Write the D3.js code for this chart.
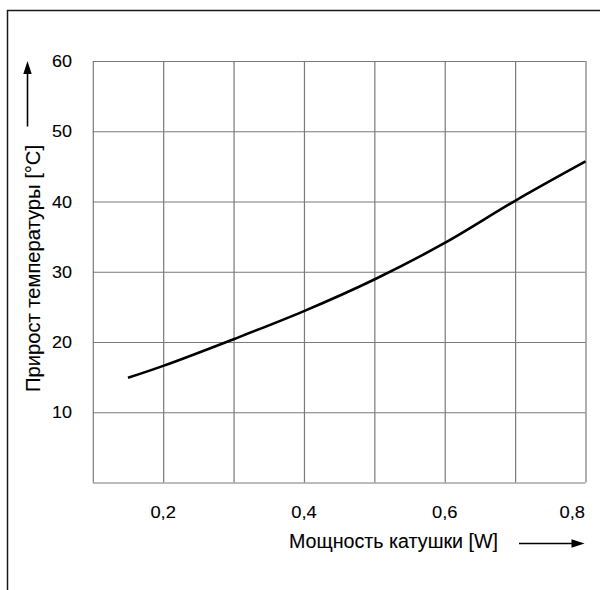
<!DOCTYPE html>
<html>
<head>
<meta charset="utf-8">
<script src="https://cdn.jsdelivr.net/npm/d3@7"></script>
<style>
  html, body { margin: 0; padding: 0; background: #fff; }
  svg { display: block; }
  text { font-family: "Liberation Sans", Arial, Helvetica, sans-serif; fill: #000; stroke: #000; stroke-width: 0.1px; }
</style>
</head>
<body>
<svg id="chart" width="600" height="590"></svg>
<script>
// Data
const powerW = [0.15, 0.2, 0.3, 0.4, 0.5, 0.6, 0.7, 0.8];
const tempRise = [14.9, 16.6, 20.4, 24.4, 28.9, 34.1, 40.1, 45.7];
const xGrid = [0.1, 0.2, 0.3, 0.4, 0.5, 0.6, 0.7, 0.8];
const yGrid = [0, 10, 20, 30, 40, 50, 60];
const xTickValues = [0.2, 0.4, 0.6, 0.8];
const xTickLabels = ["0,2", "0,4", "0,6", "0,8"];
const yTickValues = [10, 20, 30, 40, 50, 60];
const yTickLabels = ["10", "20", "30", "40", "50", "60"];
const xTitle = "Мощность катушки [W]";
const yTitle = "Прирост температуры [°C]";

const svg = d3.select("#chart");

const x = d3.scaleLinear().domain([0.1, 0.8]).range([92.8, 585.5]);
const y = d3.scaleLinear().domain([0, 60]).range([482.5, 61]);

// outer frame (top and left edges visible)
svg.append("path")
  .attr("d", "M7.5,590 L7.5,10.5 L600,10.5")
  .attr("fill", "none")
  .attr("stroke", "#1a1a1a")
  .attr("stroke-width", 1.5);

// grid via axes
const gridColor = "#7a7a7a";
const gx = svg.append("g")
  .attr("transform", `translate(0,${y(0)})`)
  .call(d3.axisBottom(x).tickValues(xGrid).tickSize(-(y(0) - y(60))).tickFormat(""));
gx.select(".domain").remove();
gx.selectAll(".tick line").attr("stroke", gridColor).attr("stroke-width", 1.2);

const gy = svg.append("g")
  .attr("transform", `translate(${x(0.1)},0)`)
  .call(d3.axisLeft(y).tickValues(yGrid).tickSize(-(x(0.8) - x(0.1))).tickFormat(""));
gy.select(".domain").remove();
gy.selectAll(".tick line").attr("stroke", gridColor).attr("stroke-width", 1.2);

// Y tick labels
svg.append("g").selectAll("text")
  .data(yTickValues)
  .join("text")
  .attr("x", 72)
  .attr("y", d => y(d) + 6)
  .attr("text-anchor", "end")
  .attr("font-size", 16)
  .attr("textLength", 20)
  .attr("lengthAdjust", "spacingAndGlyphs")
  .text((d, i) => yTickLabels[i]);

// X tick labels
svg.append("g").selectAll("text")
  .data(xTickValues)
  .join("text")
  .attr("x", (d, i) => i === xTickValues.length - 1 ? x(d) - 0.5 : x(d))
  .attr("y", 518)
  .attr("text-anchor", (d, i) => i === xTickValues.length - 1 ? "end" : "middle")
  .attr("font-size", 16)
  .attr("textLength", 25.5)
  .attr("lengthAdjust", "spacingAndGlyphs")
  .text((d, i) => xTickLabels[i]);

// curve
const line = d3.line()
  .x(d => x(d[0]))
  .y(d => y(d[1]))
  .curve(d3.curveCatmullRom.alpha(0.5));
svg.append("path")
  .datum(powerW.map((p, i) => [p, tempRise[i]]))
  .attr("d", line)
  .attr("fill", "none")
  .attr("stroke", "#000")
  .attr("stroke-width", 2.6)
  .attr("stroke-linecap", "butt");

// X axis title
svg.append("text")
  .attr("x", 289)
  .attr("y", 547.5)
  .attr("font-size", 20)
  .attr("textLength", 209)
  .attr("lengthAdjust", "spacingAndGlyphs")
  .text(xTitle);

// Y axis title
svg.append("text")
  .attr("transform", "translate(40,392) rotate(-90)")
  .attr("font-size", 20.5)
  .attr("textLength", 247)
  .attr("lengthAdjust", "spacingAndGlyphs")
  .text(yTitle);

// arrows
svg.append("line")
  .attr("x1", 519).attr("y1", 543.5).attr("x2", 574).attr("y2", 543.5)
  .attr("stroke", "#000").attr("stroke-width", 1.6);
svg.append("path")
  .attr("d", "M584.5,543.5 L571.5,539.3 L571.5,547.7 Z")
  .attr("fill", "#000");

svg.append("line")
  .attr("x1", 27.5).attr("y1", 126.5).attr("x2", 27.5).attr("y2", 71)
  .attr("stroke", "#000").attr("stroke-width", 1.6);
svg.append("path")
  .attr("d", "M27.5,61 L23.3,74 L31.7,74 Z")
  .attr("fill", "#000");
</script>
</body>
</html>
